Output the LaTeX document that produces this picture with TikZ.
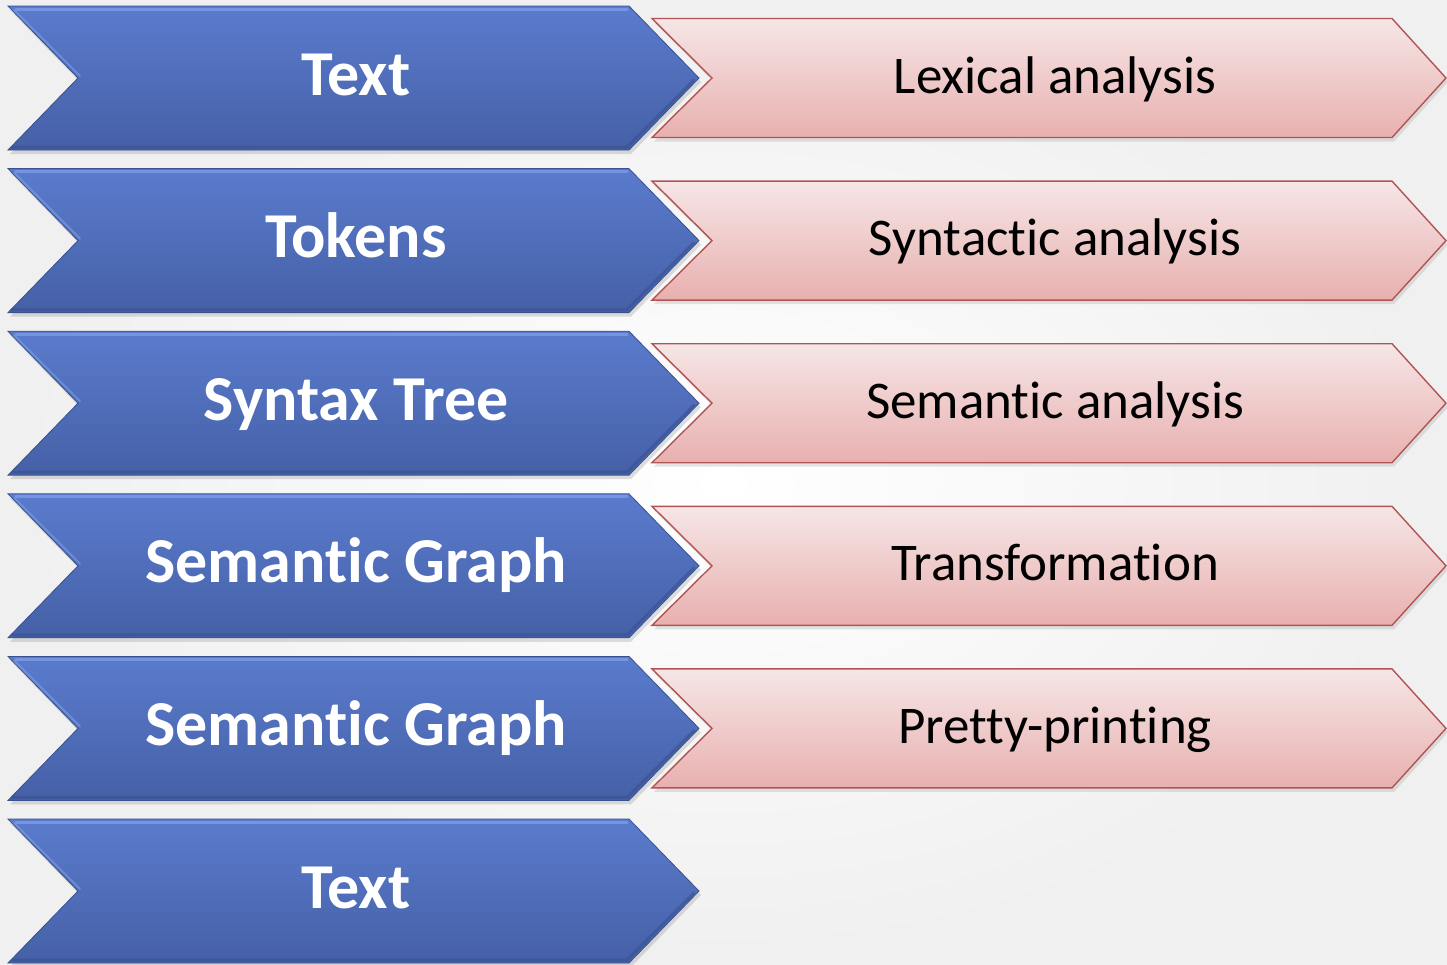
\documentclass[tikz,border=0pt]{standalone}
\usepackage{fontspec}
\setmainfont[Ligatures=NoCommon]{Carlito}
\usetikzlibrary{shadows}
\definecolor{bluetop}{HTML}{5A7BCD}
\definecolor{bluebot}{HTML}{4560A6}
\definecolor{bluehi}{HTML}{7E9CE6}
\definecolor{bluelo}{HTML}{3A5190}
\definecolor{pinktop}{HTML}{F6E6E6}
\definecolor{pinkbot}{HTML}{E8B0AF}
\definecolor{pinkline}{HTML}{B25454}
\tikzset{
  stagebox/.style={top color=bluetop, bottom color=bluebot, draw=bluelo, line width=0.8pt,
    drop shadow={shadow xshift=2pt, shadow yshift=-4pt, opacity=0.25}},
  stepbox/.style={top color=pinktop, bottom color=pinkbot, draw=pinkline, line width=1.4pt,
    line join=miter, drop shadow={shadow xshift=2pt, shadow yshift=-4pt, opacity=0.2}},
  stagetext/.style={text=white, font=\fontsize{64}{70}\selectfont\bfseries, inner sep=0pt, anchor=base},
  steptext/.style={text=black, font=\fontsize{53}{60}\selectfont, inner sep=0pt, anchor=base},
}
\begin{document}
\begin{tikzpicture}[x=1pt, y=-1pt]
  % background
  \shade[inner color=white, outer color=black!6] (0,0) rectangle (1447,964);
  \useasboundingbox (0,0) rectangle (1447,964);

  % blue stage chevrons
  \foreach \i/\lbl in {0/Text, 1/Tokens, 2/Syntax Tree, 3/Semantic Graph, 4/Semantic Graph, 5/Text} {
    \pgfmathsetmacro{\cy}{78+162.6*\i}
    \path[stagebox] (8,\cy-72) -- (629,\cy-72) -- (699,\cy) -- (629,\cy+72)
      -- (8,\cy+72) -- (78,\cy) -- cycle;
    % bevel highlights
    \draw[bluehi, line width=3pt, line cap=round, line join=round, opacity=0.8]
      (16,\cy-69) -- (627,\cy-69);
    \draw[bluehi, line width=2pt, line cap=round, opacity=0.6]
      (14,\cy-68) -- (80,\cy-2);
    \draw[bluelo, line width=3pt, line cap=round, line join=round, opacity=0.6]
      (12,\cy+69) -- (627,\cy+69) -- (694,\cy+2);
    \node[stagetext] (stage\i) at (356,\cy+17) {\lbl};
  }

  % pink step chevrons
  \foreach \i/\lbl in {0/Lexical analysis, 1/Syntactic analysis, 2/Semantic analysis,
                       3/Transformation, 4/Pretty-printing} {
    \pgfmathsetmacro{\cy}{78+162.6*\i}
    \path[stepbox] (652,\cy-59.5) -- (1392,\cy-59.5) -- (1446,\cy) -- (1392,\cy+59.5)
      -- (652,\cy+59.5) -- (712,\cy) -- cycle;
    \node[steptext] (step\i) at (1055,\cy+15) {\lbl};
  }
\end{tikzpicture}
\end{document}
